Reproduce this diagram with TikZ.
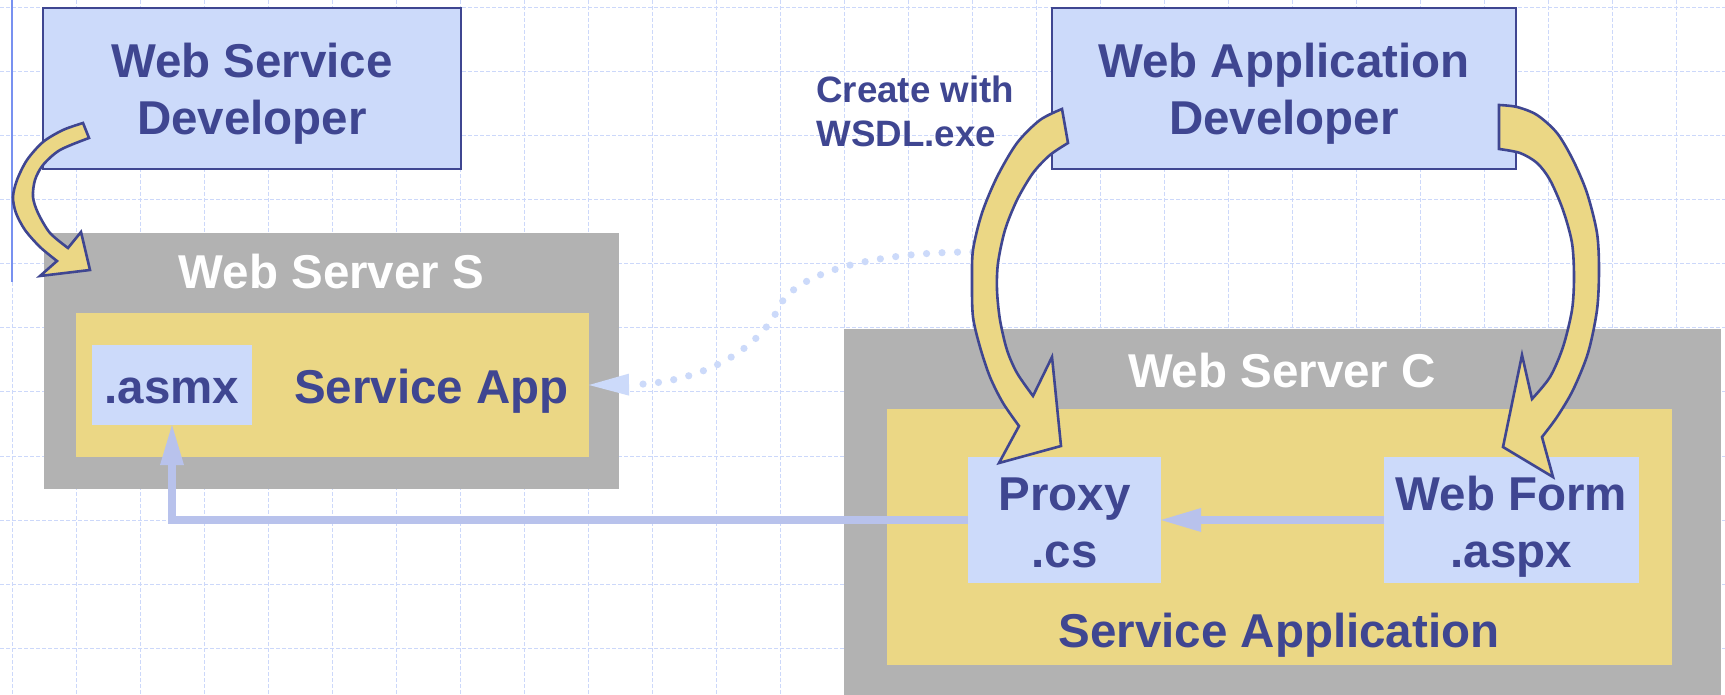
\documentclass[tikz,border=0pt]{standalone}
\usepackage{fontspec}
\setmainfont{Liberation Sans}
\usetikzlibrary{arrows.meta}
\definecolor{boxblue}{RGB}{204,218,250}
\definecolor{navy}{RGB}{63,70,145}
\definecolor{appyellow}{RGB}{235,215,133}
\definecolor{srvgray}{RGB}{178,178,178}
\definecolor{connblue}{RGB}{184,194,236}
\definecolor{gridblue}{RGB}{204,216,250}
\definecolor{leftblue}{RGB}{120,145,240}
\begin{document}
\begin{tikzpicture}[x=0.5pt,y=-0.5pt,
  gridline/.style={draw=gridblue, line width=0.5pt, dash pattern=on 2pt off 1pt},
  devbox/.style={draw=navy, line width=1pt, fill=boxblue, inner sep=0pt, outer sep=0pt},
  filebox/.style={fill=boxblue, inner sep=0pt, outer sep=0pt},
  server/.style={fill=srvgray, inner sep=0pt, outer sep=0pt},
  appbox/.style={fill=appyellow, inner sep=0pt, outer sep=0pt},
  lbl/.style={font=\fontsize{23.75}{28.5}\selectfont\bfseries, text=navy, inner sep=0pt, anchor=base, align=center},
  wlbl/.style={lbl, text=white},
  smalllbl/.style={font=\fontsize{18.35}{22}\selectfont\bfseries, text=navy, inner sep=0pt, anchor=base west, align=left},
  conn/.style={draw=connblue, line width=4pt, -{Triangle[length=20pt,width=12pt,line width=0pt]}},
  dotconn/.style={draw=boxblue, line width=3.6pt, line cap=round, dash pattern=on 0pt off 7.75pt, -{Triangle[length=20pt,width=11pt,line width=0pt]}},
  blockarrow/.style={draw=navy, line width=1.3pt, fill=appyellow, line join=miter}
]
\useasboundingbox (0,0) rectangle (1725,695);
\fill[white] (0,0) rectangle (1725,695);
% background grid
\foreach \gx in {12,76,...,1708} \draw[gridline] (\gx,0) -- (\gx,695);
\foreach \gy in {8,72,...,648} \draw[gridline] (0,\gy) -- (1725,\gy);
\draw[leftblue, line width=0.8pt] (12,0) -- (12,282);

% boxes
\node[devbox, minimum width=209pt, minimum height=80.5pt] (wsd) at (252,88.5) {};
\node[devbox, minimum width=232pt, minimum height=80.5pt] (wad) at (1284,88.5) {};
\node[server, minimum width=287.5pt, minimum height=128pt] (srvS) at (331.5,361) {};
\node[appbox, minimum width=256.5pt, minimum height=72pt] (svcapp) at (332.5,385) {};
\node[filebox, minimum width=80pt, minimum height=40pt] (asmx) at (172,385) {};
\node[server, minimum width=438.5pt, minimum height=183pt] (srvC) at (1282.5,512) {};
\node[appbox, minimum width=392.5pt, minimum height=128pt] (svcappC) at (1279.5,537) {};
\node[filebox, minimum width=96.5pt, minimum height=63pt] (proxy) at (1064.5,520) {};
\node[filebox, minimum width=127.5pt, minimum height=63pt] (webform) at (1511.5,520) {};

% labels (base anchor = baseline of last line)
\node[lbl] (wsdtxt) at (252,135) {Web Service\\Developer};
\node[lbl] (wadtxt) at (1284,135) {Web Application\\Developer};
\node[wlbl] (srvStxt) at (331.5,289) {Web Server S};
\node[lbl] (asmxtxt) at (172,403) {.asmx};
\node[lbl] (svcapptxt) at (431.5,403) {Service App};
\node[wlbl] (srvCtxt) at (1282,387) {Web Server C};
\node[lbl] (proxytxt) at (1064.5,567) {Proxy\\.cs};
\node[lbl] (webformtxt) at (1511.5,567) {Web Form\\.aspx};
\node[lbl] (svcappCtxt) at (1279,647) {Service Application};
\node[smalllbl] (wsdltxt) at (816,147) {Create with\\WSDL.exe};

% connectors
\coordinate (dotstart) at (973,252);
\draw[dotconn] (dotstart) .. controls (880,252) and (800,270) .. (780,305)
   .. controls (760,350) and (700,384) .. (svcapp.east);
\draw[conn] (webform.west) -- (proxy.east);
\draw[conn] (proxy.west) -| (asmx.south);

% curved block arrows
\draw[blockarrow] plot[smooth] coordinates {(83,123) (63,130) (43,142) (27,160) (17,180) (13,197) (16,213) (25,230) (40,247) (57,261)}
  -- (40,276) -- (90,270) -- (81,232)
  -- plot[smooth] coordinates {(68,248) (50,233) (38,213) (33,197) (35,180) (43,165) (60,150) (89,138)} -- cycle;
\draw[blockarrow] plot[smooth] coordinates {(1062,109) (1040,120) (1017,143) (997,177) (982,213) (973,250) (972,283) (973,317) (980,347) (990,377) (1003,403) (1019,426)}
  -- (999,463) -- (1061,446) -- (1052,357)
  -- plot[smooth] coordinates {(1033,396) (1017,373) (1007,350) (1000,320) (997,290) (998,263) (1005,230) (1017,200) (1033,173) (1050,155) (1068,143)} -- cycle;
\draw[blockarrow] plot[smooth] coordinates {(1499,105) (1517,107) (1537,115) (1557,133) (1573,160) (1587,193) (1597,233) (1599,270) (1597,310) (1588,353) (1573,390) (1557,417) (1542,437)}
  -- (1553,477) -- (1503,447) -- (1522,355)
  -- plot[smooth] coordinates {(1532,399) (1550,377) (1563,347) (1572,310) (1574,277) (1572,243) (1563,210) (1550,180) (1537,163) (1520,153) (1499,149)} -- cycle;
\end{tikzpicture}
\end{document}
